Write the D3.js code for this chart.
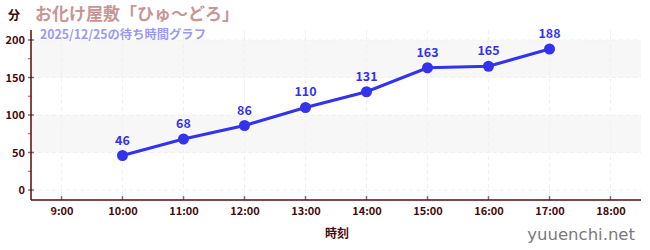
<!DOCTYPE html>
<html>
<head>
<meta charset="utf-8">
<script src="https://cdn.jsdelivr.net/npm/d3@7"></script>
<style>
body { margin: 0; background: #fff; }
text { font-family: "Noto Sans CJK JP", "Noto Sans", sans-serif; }
</style>
</head>
<body>
<svg id="chart" width="650" height="250"></svg>
<script>
// data
const hours = [10, 11, 12, 13, 14, 15, 16, 17];
const waits = [46, 68, 86, 110, 131, 163, 165, 188];
const xTicks = [9, 10, 11, 12, 13, 14, 15, 16, 17, 18];
const yTicks = [0, 50, 100, 150, 200];
const yMinor = [25, 75, 125, 175];
const bands = [[50, 100], [150, 200]];

const points = hours.map((h, i) => ({ h: h, v: waits[i] }));

const svg = d3.select("#chart");
const plotLeft = 31, plotRight = 641, plotTop = 30, plotBottom = 200;

const x = d3.scaleLinear().domain([8.5, 18.5]).range([plotLeft, plotRight]);
const y = d3.scaleLinear().domain([-13.33, 213.33]).range([plotBottom, plotTop]);

// shaded bands
svg.append("g").selectAll("rect")
   .data(bands)
   .enter()
   .append("rect")
   .attr("x", plotLeft)
   .attr("width", plotRight - plotLeft)
   .attr("y", d => y(d[1]))
   .attr("height", d => y(d[0]) - y(d[1]))
   .attr("fill", "#f7f7f7");

// grid
svg.append("g").selectAll("line")
   .data(xTicks)
   .enter()
   .append("line")
   .attr("x1", d => x(d)).attr("x2", d => x(d))
   .attr("y1", plotTop).attr("y2", plotBottom)
   .attr("stroke", "#f0f0f0")
   .attr("stroke-dasharray", "4,3");
svg.append("g").selectAll("line")
   .data(yTicks)
   .enter()
   .append("line")
   .attr("x1", plotLeft).attr("x2", plotRight)
   .attr("y1", d => y(d)).attr("y2", d => y(d))
   .attr("stroke", "#f0f0f0")
   .attr("stroke-dasharray", "4,3");

// y axis
const yAxis = svg.append("g")
   .attr("transform", `translate(${plotLeft},0)`)
   .call(d3.axisLeft(y).tickValues(yTicks).tickSize(0).tickPadding(6));
yAxis.select(".domain").remove();
yAxis.selectAll("text")
   .attr("fill", "#4a0a0a")
   .style("font-size", "11px")
   .style("font-weight", "bold");
svg.append("g").selectAll("line")
   .data(yTicks)
   .enter()
   .append("line")
   .attr("x1", plotLeft - 3).attr("x2", plotLeft + 3)
   .attr("y1", d => y(d)).attr("y2", d => y(d))
   .attr("stroke", "#777")
   .attr("stroke-width", 1.5);
svg.append("g").selectAll("line")
   .data(yMinor)
   .enter()
   .append("line")
   .attr("x1", plotLeft - 3).attr("x2", plotLeft)
   .attr("y1", d => y(d)).attr("y2", d => y(d))
   .attr("stroke", "#ee3333");
svg.append("line")
   .attr("x1", plotLeft).attr("x2", plotLeft)
   .attr("y1", plotTop).attr("y2", plotBottom)
   .attr("stroke", "#5a0a0a")
   .attr("stroke-width", 1.5);

// x axis
const xAxis = svg.append("g")
   .attr("transform", `translate(0,${plotBottom})`)
   .call(d3.axisBottom(x).tickValues(xTicks).tickSize(0).tickPadding(7)
          .tickFormat(d => d + ":00"));
xAxis.select(".domain").remove();
xAxis.selectAll("text")
   .attr("fill", "#4a0a0a")
   .style("font-size", "11px")
   .style("font-weight", "bold");
svg.append("g").selectAll("line")
   .data(xTicks)
   .enter()
   .append("line")
   .attr("x1", d => x(d)).attr("x2", d => x(d))
   .attr("y1", plotBottom - 4).attr("y2", plotBottom)
   .attr("stroke", "#777")
   .attr("stroke-width", 1.5);
svg.append("line")
   .attr("x1", plotLeft).attr("x2", plotRight)
   .attr("y1", plotBottom).attr("y2", plotBottom)
   .attr("stroke", "#5a0a0a")
   .attr("stroke-width", 1.5);

// line + points
const line = d3.line().x(d => x(d.h)).y(d => y(d.v));
svg.append("path")
   .datum(points)
   .attr("d", line)
   .attr("fill", "none")
   .attr("stroke", "#3333ee")
   .attr("stroke-width", 3);
svg.append("g").selectAll("circle")
   .data(points)
   .enter()
   .append("circle")
   .attr("cx", d => x(d.h))
   .attr("cy", d => y(d.v))
   .attr("r", 5.5)
   .attr("fill", "#3333ee");
svg.append("g").selectAll("text")
   .data(points)
   .enter()
   .append("text")
   .attr("x", d => x(d.h))
   .attr("y", d => y(d.v) - 11)
   .attr("text-anchor", "middle")
   .attr("fill", "#3333ee")
   .style("font-size", "12.5px")
   .style("font-weight", "bold")
   .text(d => d.v);

// titles
svg.append("text")
   .attr("x", 8).attr("y", 20)
   .attr("fill", "#3a0505")
   .style("font-size", "12px").style("font-weight", "bold")
   .text("分");
svg.append("text")
   .attr("x", 35).attr("y", 19.8)
   .attr("fill", "#c89494")
   .style("font-size", "17px").style("font-weight", "bold")
   .text("お化け屋敷「ひゅ～どろ」");
svg.append("text")
   .attr("x", 40).attr("y", 38.8)
   .attr("fill", "#9a9af0")
   .style("font-size", "12.3px").style("font-weight", "bold")
   .text("2025/12/25の待ち時間グラフ");
svg.append("text")
   .attr("x", 337).attr("y", 238)
   .attr("text-anchor", "middle")
   .attr("fill", "#4a0a0a")
   .style("font-size", "12px").style("font-weight", "bold")
   .text("時刻");
svg.append("text")
   .attr("x", 635).attr("y", 240)
   .attr("text-anchor", "end")
   .attr("fill", "#7a7a7a")
   .style("font-size", "16.5px")
   .style("font-family", "'DejaVu Sans', sans-serif")
   .text("yuuenchi.net");
</script>
</body>
</html>
